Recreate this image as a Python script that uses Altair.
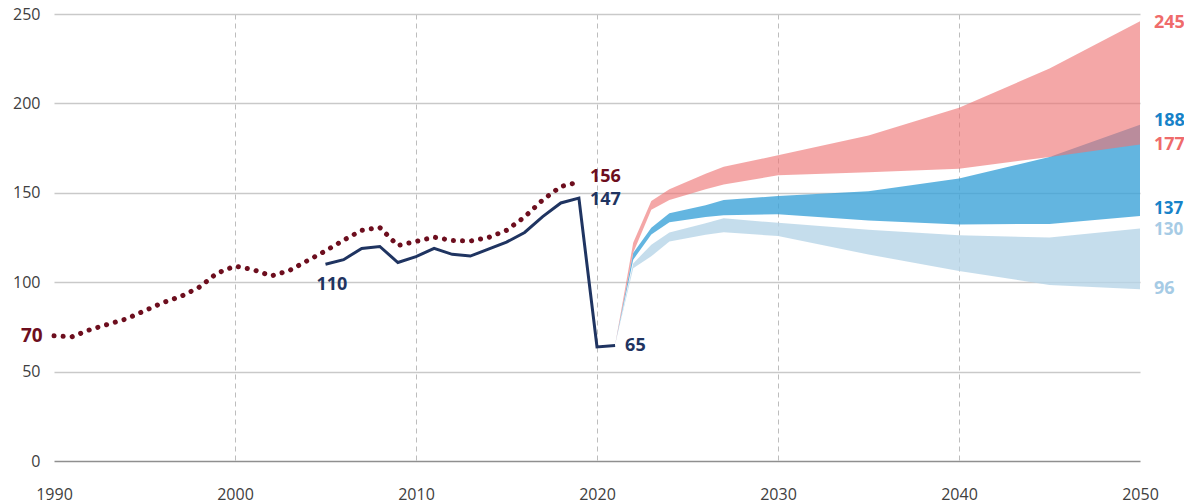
import altair as alt
import pandas as pd

# ---- data ----
hist_years = list(range(1990, 2020))
hist_values = [70, 69.5, 73.5, 76.5, 79.5, 84, 88.5, 92, 97, 105,
               109, 107, 103.5, 106.5, 112, 117.5, 123.5, 129, 130.6, 120.5,
               122.8, 125.2, 123.3, 123, 125, 129, 136.5, 146, 153.5, 156]

navy_years = list(range(2005, 2022))
navy_values = [110, 112.6, 118.9, 120, 111, 114.3, 118.9, 115.6, 114.6,
               118.5, 122.4, 127.8, 136.7, 144.3, 147, 63.8, 64.6]

proj_years = [2021, 2022, 2023, 2024, 2026, 2027, 2030, 2035, 2040, 2045, 2050]
red_hi = [65, 122, 145.4, 152, 160.7, 164.5, 171, 182, 197.6, 219.5, 246]
red_lo = [65, 116.5, 140.5, 146, 152, 154.6, 159.8, 161.5, 163.5, 170, 177]
blue_hi = [65, 116.3, 130.5, 138.5, 143, 146, 148.2, 150.8, 158, 170, 188]
blue_lo = [65, 112.6, 126.7, 133.5, 136.5, 137.4, 138, 134.5, 132.3, 132.6, 137]
lb_hi = [65, 110.5, 121, 127.8, 133, 135.7, 133.2, 129.3, 126.2, 125, 130]
lb_lo = [65, 107.8, 114.5, 122.8, 126.5, 128, 125.8, 115.5, 106.2, 98.5, 96]

label_text = ["70", "156", "147", "110", "65", "245", "188", "177", "137", "130", "96"]
label_year = [1990, 2019, 2019, 2005, 2021, 2050, 2050, 2050, 2050, 2050, 2050]
label_value = [70, 156, 147, 110, 65, 245, 188, 177, 137, 130, 96]
label_color = ["#6D0E1E", "#6D0E1E", "#1F3461", "#1F3461", "#1F3461",
               "#EF6B6B", "#1782C8", "#EF6B6B", "#1782C8", "#A6CBE5", "#A6CBE5"]
# pixel nudges of the annotation texts
label_dx = [-33, 11, 11, -9, 10, 14, 14, 14, 14, 14, 14]
label_dy = [0, -5, 2, 21, 1, 0, -3.5, 0, -7.5, 1.5, 0]
label_size = [19, 18, 18, 18, 18, 18, 18, 18, 17, 17, 18]

DARKRED = "#6D0E1E"
NAVY = "#1F3461"

W, H = 1086, 447
X0, X1, Y0, Y1 = 1990, 2050, 0, 250

hist = pd.DataFrame({"year": hist_years, "value": hist_values})
navy = pd.DataFrame({"year": navy_years, "value": navy_values})
proj = pd.DataFrame({"year": proj_years, "red_hi": red_hi, "red_lo": red_lo,
                     "blue_hi": blue_hi, "blue_lo": blue_lo,
                     "lb_hi": lb_hi, "lb_lo": lb_lo})
labels = pd.DataFrame({"text": label_text, "year": label_year, "value": label_value,
                       "color": label_color, "dx": label_dx, "dy": label_dy,
                       "size": label_size})

xscale = alt.Scale(domain=[X0, X1], nice=False, zero=False)
yscale = alt.Scale(domain=[Y0, Y1], nice=False)

x_axis = alt.Axis(values=list(range(1990, 2051, 10)), format="d", title=None,
                  ticks=False, domain=False, labelPadding=25, labelFlush=False,
                  grid=True, gridDash=[5, 4], gridColor="#BDBDBD", gridWidth=1,
                  gridOpacity={"condition": {"test": "datum.value == 1990 || datum.value == 2050",
                                             "value": 0}, "value": 1})
y_axis = alt.Axis(values=list(range(0, 251, 50)), title=None, ticks=False,
                  domain=False, labelPadding=14, grid=True, gridWidth=1.5,
                  gridColor={"condition": {"test": "datum.value == 0", "value": "#8F8F8F"},
                             "value": "#C9C9C9"})

grid_layer = alt.Chart(hist).mark_line(opacity=0).encode(
    x=alt.X("year:Q", scale=xscale, axis=x_axis),
    y=alt.Y("value:Q", scale=yscale, axis=y_axis))

def band(hi, lo, color, opacity):
    return alt.Chart(proj).mark_area(color=color, opacity=opacity, interpolate="linear").encode(
        x=alt.X("year:Q", scale=xscale),
        y=alt.Y(f"{hi}:Q", scale=yscale),
        y2=alt.Y2(f"{lo}:Q"),
    )

lb_band = band("lb_hi", "lb_lo", "#B6D5E7", 0.8)
blue_band = band("blue_hi", "blue_lo", "#3CA2D8", 0.8)
red_band = band("red_hi", "red_lo", "#ED7373", 0.63)

dotted = alt.Chart(hist).mark_line(color=DARKRED, strokeWidth=5, strokeCap="round",
                                   strokeDash=[0.1, 9]).encode(
    x=alt.X("year:Q", scale=xscale), y=alt.Y("value:Q", scale=yscale))

navy_line = alt.Chart(navy).mark_line(color=NAVY, strokeWidth=3).encode(
    x=alt.X("year:Q", scale=xscale), y=alt.Y("value:Q", scale=yscale))

px_per_year = W / (X1 - X0)
px_per_unit = H / (Y1 - Y0)

text = alt.Chart(labels).transform_calculate(
    xp=f"datum.year + datum.dx / {px_per_year}",
    yp=f"datum.value - datum.dy / {px_per_unit}",
).mark_text(align="left", baseline="middle", fontWeight="bold",
            font="Open Sans").encode(
    x=alt.X("xp:Q", scale=xscale),
    y=alt.Y("yp:Q", scale=yscale),
    text="text:N",
    color=alt.Color("color:N", scale=None),
    size=alt.Size("size:Q", scale=None),
)

chart = alt.layer(grid_layer, lb_band, blue_band, red_band, dotted, navy_line, text).properties(
    width=W, height=H,
    autosize=alt.AutoSizeParams(type="none"),
    padding={"left": 46, "top": 6, "right": 44, "bottom": 43},
).configure_view(stroke=None).configure_axis(
    labelFont="Open Sans", labelFontSize=16, labelColor="#404040"
)

chart.save("out.html", embed_options={"renderer": "svg", "actions": False})
